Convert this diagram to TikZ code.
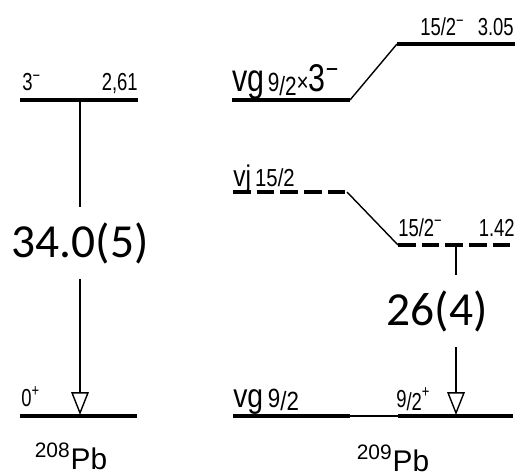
\documentclass[tikz,border=0pt]{standalone}
\usepackage{fontspec}
\setmainfont{Liberation Sans}
\newfontfamily\calibri{Carlito}
\usetikzlibrary{arrows.meta}

\newcommand{\up}[1]{\textsuperscript{#1}}
\newcommand{\sfrac}[2]{#1\raisebox{-2pt}{/#2}}

\begin{document}
\begin{tikzpicture}[x=0.02cm,y=-0.02cm,
    level/.style={line width=2.2pt},
    dlevel/.style={line width=2.2pt,dash pattern=on 10pt off 3.5pt},
    link/.style={line width=0.8pt},
    gam/.style={line width=0.8pt,-{Triangle[open,length=13pt,width=10pt,line width=0.8pt]}},
    lab/.style={inner sep=0pt,anchor=base west,xscale=0.75,font=\fontsize{14}{14}\selectfont},
    rlab/.style={lab,anchor=base east},
    big/.style={fill=white,inner xsep=2pt,inner ysep=9pt,font=\calibri\fontsize{27}{27}\selectfont}]
    \useasboundingbox (0,0) rectangle (520,476);

    % 208Pb
    \coordinate (a3l) at (20,100);  \coordinate (a3r) at (138,100);
    \coordinate (a0l) at (20,416);  \coordinate (a0r) at (137,416);
    \coordinate (t3) at (80,100);   \coordinate (t0) at (80,415);
    \draw[level] (a3l) -- (a3r);
    \draw[level] (a0l) -- (a0r);
    \draw[gam] (t3) -- (t0);
    \node[big] (e34) at (80,243) {34.0(5)};
    \node[lab] (j3) at (22,91) {3\up{−}};
    \node[rlab] (x3) at (138,91) {2,61};
    \node[lab] (j0) at (21,406) {0\up{+}};
    \node[inner sep=0pt,anchor=base,font=\fontsize{17}{17}\selectfont] (n208) at (71,469) {\up{208}Pb};

    % 209Pb
    \coordinate (b3l) at (232,100); \coordinate (b3r) at (350,100);
    \coordinate (c3l) at (397,44);  \coordinate (c3r) at (515,44);
    \coordinate (jl) at (233,192);  \coordinate (jr) at (347,192);
    \coordinate (j2l) at (398,245); \coordinate (j2r) at (515,245);
    \coordinate (gl) at (233,416);  \coordinate (gm1) at (350,416);
    \coordinate (gm2) at (398,416); \coordinate (gr) at (513,416);
    \coordinate (t15) at (456,245); \coordinate (t9) at (456,415);
    \draw[level] (b3l) -- (b3r);
    \draw[link] (b3r) -- (c3l);
    \draw[level] (c3l) -- (c3r);
    \draw[dlevel] (jl) -- (jr);
    \draw[link] (jr) -- (j2l);
    \draw[dlevel] (j2l) -- (j2r);
    \draw[level] (gl) -- (gm1);
    \draw[link] (gm1) -- (gm2);
    \draw[level] (gm2) -- (gr);
    \draw[gam] (t15) -- (t9);
    \node[big] (e26) at (437,311) {26(4)};

    \node[lab,xscale=1.05,font=\fontsize{22}{22}\selectfont] (cfg3) at (232,92)
        {vg{\fontsize{15}{15}\selectfont\,\sfrac{9}{2}×}3\up{−}};
    \node[lab] (j15a) at (420,36) {15/2\up{−}};
    \node[rlab] (x305) at (514,36) {3.05};
    \node[lab,xscale=1.1,font=\fontsize{17}{17}\selectfont] (cfgj) at (233,187)
        {vj\,{\fontsize{14}{14}\selectfont 15/2}};
    \node[lab] (j15b) at (398,236) {15/2\up{−}};
    \node[rlab] (x142) at (515,236) {1.42};
    \node[lab,xscale=1.13,font=\fontsize{19}{19}\selectfont] (cfgg) at (233,407)
        {vg\,{\fontsize{15}{15}\selectfont\sfrac{9}{2}}};
    \node[lab] (j9) at (396,407) {\sfrac{9}{2}\up{+}};
    \node[inner sep=0pt,anchor=base,font=\fontsize{17}{17}\selectfont] (n209) at (393,471) {\up{209}Pb};
\end{tikzpicture}
\end{document}
